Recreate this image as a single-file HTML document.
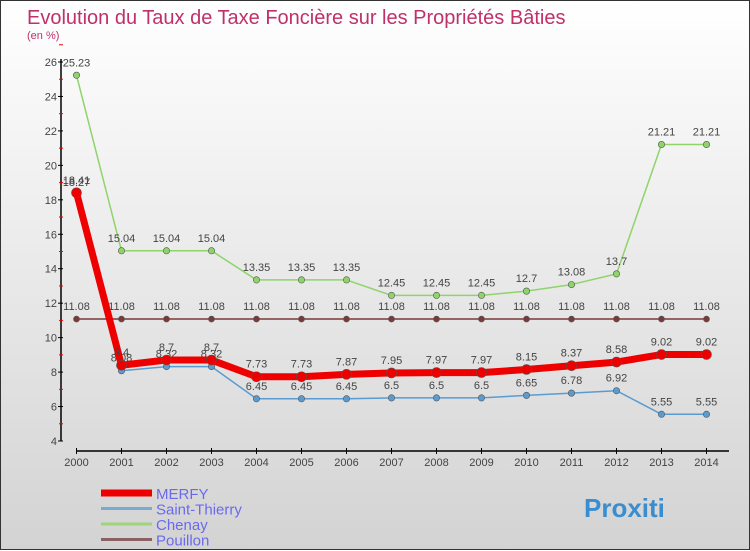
<!DOCTYPE html>
<html><head><meta charset="utf-8"><style>
body{margin:0;width:750px;height:550px;overflow:hidden;font-family:"Liberation Sans",sans-serif}
#wrap{position:relative;width:748px;height:548px;border:1px solid #333;background:linear-gradient(#fff,#d3d3d3)}
svg{position:absolute;left:0;top:0}
</style></head><body>
<div id="wrap">
<svg id="c" width="750" height="550">
<text x="26" y="23" font-size="20" fill="#c0306a">Evolution du Taux de Taxe Foncière sur les Propriétés Bâties</text>
<text x="26" y="38" font-size="11" fill="#c0306a">(en %)</text>
</svg>
</div>
<script>
const years=["2000","2001","2002","2003","2004","2005","2006","2007","2008","2009","2010","2011","2012","2013","2014"];
const yTicks=[4,6,8,10,12,14,16,18,20,22,24,26];
const merfy=[18.41,8.4,8.7,8.7,7.73,7.73,7.87,7.95,7.97,7.97,8.15,8.37,8.58,9.02,9.02];
const stThierry=[18.27,8.08,8.32,8.32,6.45,6.45,6.45,6.5,6.5,6.5,6.65,6.78,6.92,5.55,5.55];
const chenay=[25.23,15.04,15.04,15.04,13.35,13.35,13.35,12.45,12.45,12.45,12.7,13.08,13.7,21.21,21.21];
const pouillon=[11.08,11.08,11.08,11.08,11.08,11.08,11.08,11.08,11.08,11.08,11.08,11.08,11.08,11.08,11.08];
const seriesNames=["MERFY","Saint-Thierry","Chenay","Pouillon"];
const svg=document.getElementById('c');const NS='http://www.w3.org/2000/svg';
function mk(t,a,p){const e=document.createElementNS(NS,t);for(const k in a)e.setAttribute(k,a[k]);(p||svg).appendChild(e);return e;}
const x=i=>75.5+i*45;
const y=v=>440-(v-4)*(379/22);
// axes
let ax=mk('line',{x1:60,y1:58,x2:60,y2:440,stroke:'#000','stroke-width':1.5});


yTicks.forEach(v=>{
 mk('line',{x1:57,x2:62,y1:y(v),y2:y(v),stroke:'#000'});
 mk('line',{x1:58,x2:62,y1:y(v+1),y2:y(v+1),stroke:'#e00'});
 const t=mk('text',{x:56,y:y(v)+4,'text-anchor':'end','font-size':11,fill:'#444'});t.textContent=v;
 
 
});
let xa=mk('line',{x1:75,y1:450,x2:728,y2:450,stroke:'#000','stroke-width':1.5});


years.forEach((yr,i)=>{
 mk('line',{x1:x(i),x2:x(i),y1:447,y2:453,stroke:'#000'});
 const t=mk('text',{x:x(i),y:465,'text-anchor':'middle','font-size':11,fill:'#444'});t.textContent=yr;
 
 
});
function series(data,color,w,r,name,dy){
 const g=mk('g',{});
 
 
 const pts=data.map((v,i)=>x(i)+','+y(v)).join(' ');
 mk('polyline',{points:pts,fill:'none',stroke:color,'stroke-width':w,'stroke-linejoin':'round'},g);
 data.forEach((v,i)=>{
  const c=mk('circle',{cx:x(i),cy:y(v),r:r,fill:color,stroke:'#555','stroke-width':0.6},g);
  
  
  const t=mk('text',{x:x(i),y:y(v)+dy,'text-anchor':'middle','font-size':11,fill:'#444'},g);t.textContent=v;
  
  
 });
}
series(pouillon,'#7a3a3a',1.5,3,'pouillon',-9);
series(chenay,'#8fd46a',1.5,3.2,'chenay',-9);
series(stThierry,'#5b9bd0',1.5,3.2,'saint-thierry',-9);
series(merfy,'#ee0000',7,5,'merfy',-9);
const cols=['#ee0000','#7aaad0','#9fd47a','#8a6060'];const ws=[7,3,3,3];
seriesNames.forEach((n,i)=>{
 const yy=492+i*15.5;
 const l=mk('line',{x1:100,x2:151,y1:yy,y2:yy,stroke:cols[i],'stroke-width':ws[i]});
 
 
 const t=mk('text',{x:155,y:yy+6,'font-size':15,fill:'#6a6aee'});t.textContent=n;
 
 
});
const lg=mk('text',{x:583,y:516,'font-size':26,'font-weight':'bold',fill:'#3a8ed0'});
lg.textContent='Proxiti';


</script>
</body></html>
